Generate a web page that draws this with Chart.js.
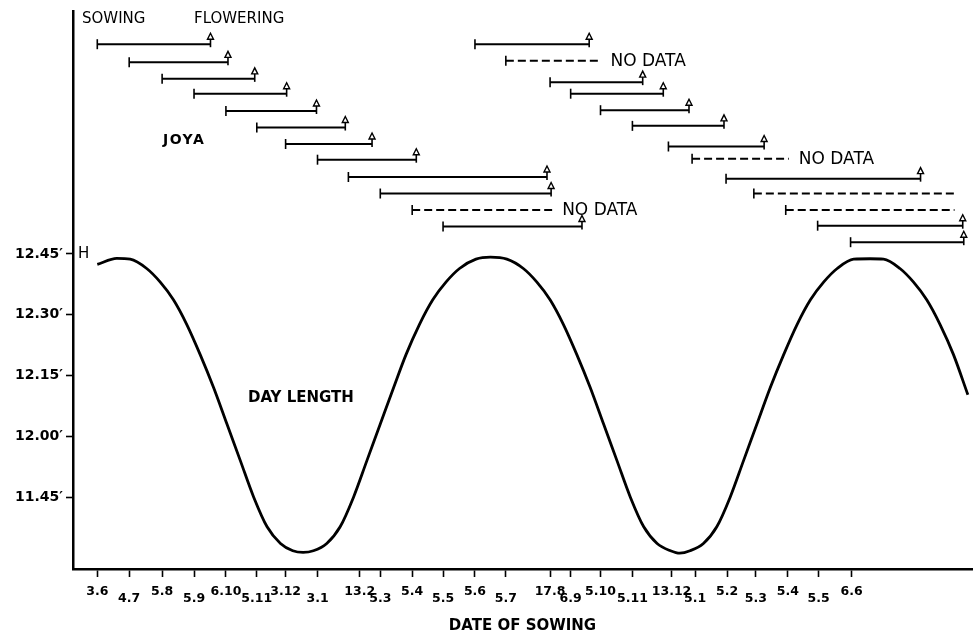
<!DOCTYPE html>
<html>
<head>
<meta charset="utf-8">
<title>Joya – sowing to flowering and day length</title>
<script src="https://cdn.jsdelivr.net/npm/chart.js@4.4.1/dist/chart.umd.min.js"></script>
<style>
  html, body { margin: 0; padding: 0; background: #fff; }
  canvas { display: block; }
</style>
</head>
<body>
<canvas id="chart" width="980" height="637"></canvas>
<script>
// ---- Sowing-date axis (days counted from the first sowing, 3 June) ----
const sowingTickLabels = ['3.6', '4.7', '5.8', '5.9', '6.10', '5.11', '3.12', '3.1', '13.2', '5.3',
  '5.4', '5.5', '5.6', '5.7', '17.8', '6.9', '5.10', '5.11', '13.12', '5.1', '5.2', '5.3', '5.4', '5.5', '6.6'];
const sowingTickDays = [0, 31, 63, 94, 125, 155, 183, 214, 255, 275,
  306, 336, 367, 397, 440, 460, 489, 520, 558, 581, 612, 640, 671, 701, 733];

// ---- Day-length axis (minutes of daylight) ----
const dayLengthTicks = [705, 720, 735, 750, 765];
const dayLengthTickLabels = ['11.45\u2032', '12.00\u2032', '12.15\u2032', '12.30\u2032', '12.45\u2032'];

// ---- Day-length curve ----
const dayLengthDays = [
  0, 19, 32, 48, 61, 74, 87, 100, 113, 126, 139, 152, 165, 178, 190, 200,
  210, 223, 236, 249, 262, 275, 288, 300, 313, 326, 339, 352, 368, 382,
  398, 414, 427, 440, 453, 466, 479, 492, 505, 518, 531, 544, 557, 566,
  576, 589, 602, 615, 628, 641, 654, 667, 680, 693, 706, 719, 735, 751,
  764, 780, 793, 806, 819, 832, 846];
const dayLengthMinutes = [
  762.4, 763.9, 763.7, 761.4, 758.1, 753.7, 747.6, 740.2, 732.1, 723.1, 714.1, 705.1, 697.8, 693.7, 691.9, 691.5,
  691.9, 693.7, 697.8, 705.1, 714.1, 723.1, 732.1, 740.2, 747.6, 753.7, 758.1, 761.4, 763.7, 764.2,
  763.7, 761.4, 758.1, 753.7, 747.6, 740.2, 732.1, 723.1, 714.1, 705.1, 697.8, 693.7, 691.9, 691.3,
  691.9, 693.7, 697.8, 705.1, 714.1, 723.1, 732.1, 740.2, 747.6, 753.7, 758.1, 761.4, 763.7, 763.8,
  763.7, 761.4, 758.1, 753.7, 747.6, 740.2, 730.3];

// ---- Sowing-to-flowering runs of JOYA ----
const barRow = [1.0, 2.1, 3.1, 4.0, 5.05, 6.05, 7.05, 8.0, 9.05, 10.05, 11.05, 12.05,
  1.0, 2.0, 3.3, 4.0, 5.0, 5.95, 7.2, 7.95, 9.15, 10.05, 11.05, 12.0, 13.0];
const sowDay = [0, 31, 63, 94, 125, 155, 183, 214, 244, 275, 306, 336,
  367, 397, 440, 460, 489, 520, 555, 578, 611, 638, 669, 700, 732];
const endDay = [110, 127, 153, 184, 213, 241, 267, 310, 437, 441, 442, 471,
  478, 489, 530, 550, 575, 609, 648, 672, 800, 833, 833, 841, 842];
const flowered = [true, true, true, true, true, true, true, true, true, true, false, true,
  true, false, true, true, true, true, true, false, true, false, false, true, true];
const barNote = ['', '', '', '', '', '', '', '', '', '', 'NO DATA', '',
  '', 'NO DATA', '', '', '', '', '', 'NO DATA', '', '', '', '', ''];

const FONT = 'DejaVu Sans';
Chart.defaults.color = '#000';
Chart.defaults.font.family = FONT;

const datasets = [{
  label: 'Day length',
  yAxisID: 'y',
  data: dayLengthDays.map((d, i) => ({ x: d, y: dayLengthMinutes[i] })),
  borderColor: '#000',
  borderWidth: 2.8,
  pointRadius: 0,
  fill: false,
  cubicInterpolationMode: 'monotone'
}];
barRow.forEach((r, i) => {
  datasets.push({
    label: 'Sowing ' + (i + 1),
    yAxisID: 'yRows',
    data: [{ x: sowDay[i], y: r }, { x: endDay[i], y: r }],
    borderColor: '#000',
    borderWidth: 2,
    borderDash: flowered[i] ? [] : [8, 4],
    pointRadius: 0,
    fill: false,
    tension: 0,
    clip: false
  });
});

// Sowing ticks, flowering arrows and "NO DATA" notes at the ends of each run
const runMarks = {
  id: 'runMarks',
  afterDatasetsDraw(chart) {
    const ctx = chart.ctx;
    ctx.save();
    ctx.strokeStyle = '#000';
    ctx.fillStyle = '#000';
    ctx.lineWidth = 1.6;
    barRow.forEach((r, i) => {
      const meta = chart.getDatasetMeta(i + 1);
      const a = meta.data[0], b = meta.data[1];
      ctx.beginPath();
      ctx.moveTo(a.x, a.y - 5);
      ctx.lineTo(a.x, a.y + 5);
      ctx.stroke();
      if (flowered[i]) {
        ctx.beginPath();
        ctx.moveTo(b.x, b.y + 3);
        ctx.lineTo(b.x, b.y - 5);
        ctx.stroke();
        ctx.lineWidth = 1.4;
        ctx.beginPath();
        ctx.moveTo(b.x, b.y - 11);
        ctx.lineTo(b.x - 3, b.y - 5);
        ctx.lineTo(b.x + 3, b.y - 5);
        ctx.closePath();
        ctx.stroke();
        ctx.lineWidth = 1.6;
      }
      if (barNote[i]) {
        ctx.font = '17px "' + FONT + '"';
        ctx.textAlign = 'left';
        ctx.textBaseline = 'middle';
        ctx.fillText(barNote[i], b.x + 10, b.y + 1);
      }
    });
    ctx.restore();
  }
};

// Free-standing labels of the figure
const figureLabels = {
  id: 'figureLabels',
  afterDraw(chart) {
    const ctx = chart.ctx;
    const area = chart.chartArea;
    const yScale = chart.scales.y;
    ctx.save();
    ctx.fillStyle = '#000';
    ctx.textAlign = 'left';
    ctx.textBaseline = 'middle';
    ctx.font = '15px "' + FONT + '"';
    ctx.fillText('SOWING', area.left + 9, 19);
    ctx.fillText('FLOWERING', area.left + 121, 19);
    ctx.fillText('H', area.left + 5, yScale.getPixelForValue(dayLengthTicks[dayLengthTicks.length - 1]));
    ctx.font = 'bold 15px "' + FONT + '"';
    ctx.fillText('DAY LENGTH', area.left + 175, 398);
    if ('letterSpacing' in ctx) ctx.letterSpacing = '1.5px';
    ctx.font = 'bold 14px "' + FONT + '"';
    ctx.fillText('JOYA', area.left + 90, 140);
    ctx.restore();
  }
};

new Chart(document.getElementById('chart'), {
  type: 'line',
  data: { datasets },
  plugins: [runMarks, figureLabels],
  options: {
    responsive: false,
    animation: false,
    events: [],
    layout: { padding: { top: 8, right: 8, left: 0, bottom: 0 } },
    plugins: { legend: { display: false }, tooltip: { enabled: false } },
    scales: {
      x: {
        type: 'linear',
        min: -23.6,
        max: 850,
        bounds: 'data',
        afterBuildTicks: s => { s.ticks = sowingTickDays.map(v => ({ value: v })); },
        afterFit: s => { s.height = 68; },
        ticks: {
          autoSkip: false,
          maxRotation: 0,
          minRotation: 0,
          padding: 11,
          color: '#000',
          font: { family: FONT, weight: 'bold', size: 12.5, lineHeight: '7px' },
          callback: (v, i) => (i % 2 ? ['', sowingTickLabels[i]] : sowingTickLabels[i])
        },
        grid: { display: true, drawOnChartArea: false, drawTicks: true, tickLength: 8, tickColor: '#000', tickWidth: 1.6 },
        border: { display: true, color: '#000', width: 2.5 },
        title: {
          display: true,
          text: 'DATE OF SOWING',
          color: '#000',
          font: { family: FONT, weight: 'bold', size: 15 },
          padding: { top: 0, bottom: 2 }
        }
      },
      y: {
        type: 'linear',
        position: 'left',
        min: 687.41,
        max: 824.71,
        bounds: 'data',
        afterBuildTicks: s => { s.ticks = dayLengthTicks.map(v => ({ value: v })); },
        afterFit: s => { s.width = 73; },
        ticks: {
          padding: 3,
          color: '#000',
          font: { family: FONT, weight: 'bold', size: 14 },
          callback: (v, i) => dayLengthTickLabels[i]
        },
        grid: { display: true, drawOnChartArea: false, drawTicks: true, tickLength: 7, tickColor: '#000', tickWidth: 1.6 },
        border: { display: true, color: '#000', width: 2.5 }
      },
      yRows: {
        type: 'linear',
        axis: 'y',
        position: 'right',
        display: false,
        reverse: true,
        min: -0.988,
        max: 32.807
      }
    }
  }
});
</script>
</body>
</html>
